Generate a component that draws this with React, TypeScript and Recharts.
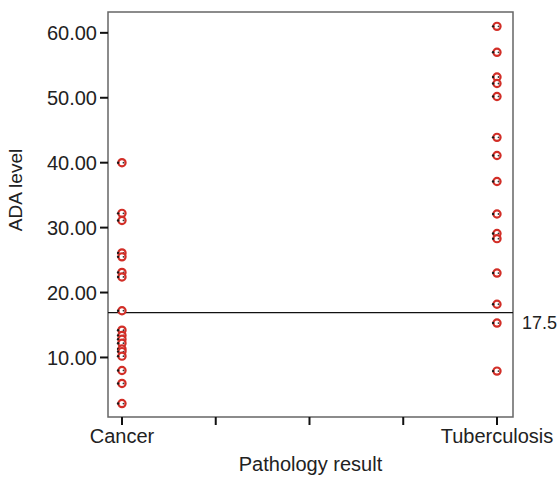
import {
  ReferenceArea,
  ReferenceLine,
  Scatter,
  ScatterChart,
  XAxis,
  YAxis,
} from 'recharts';

const groups = ['Cancer', 'Tuberculosis'];
const xTicks = [0, 0.25, 0.5, 0.75, 1];
const yTicks = [10, 20, 30, 40, 50, 60];

const cancerAda = [
  40.0, 32.2, 31.1, 26.1, 25.5, 23.1, 22.4, 17.2, 14.2, 13.4, 12.8, 12.2,
  11.3, 10.9, 10.2, 8.0, 6.0, 2.9,
];
const tbAda = [
  61.0, 57.0, 53.2, 52.2, 50.2, 43.9, 41.1, 37.1, 32.1, 29.1, 28.3, 23.0,
  18.2, 15.3, 7.9,
];

const cutoffLine = 16.9;
const cutoffLabel = '17.5';

const X_DOMAIN: [number, number] = [-0.0373, 1.0427];
const Y_DOMAIN: [number, number] = [0.83, 63.21];

const points = [
  ...cancerAda.map((ada) => ({ group: 0, ada })),
  ...tbAda.map((ada) => ({ group: 1, ada })),
];

const font = 'Liberation Sans, Arial, sans-serif';

const Marker = (props: any) => {
  const { cx, cy } = props;
  if (cx == null || cy == null) return null;
  return (
    <g>
      <circle cx={cx} cy={cy} r={3.6} fill="#fff" stroke="#d22e27" strokeWidth={2.2} />
      <circle cx={cx - 3.9} cy={cy} r={1.2} fill="#1a1a1a" />
      <circle cx={cx + 1.5} cy={cy} r={0.9} fill="#333" />
    </g>
  );
};

// label sits a bit above the plot's middle in the original
const YLabel = () => (
  <text
    x={15}
    y={190}
    transform="rotate(-90 15 190)"
    textAnchor="middle"
    dominantBaseline="central"
    fontSize={19}
    fontFamily={font}
    fill="#222"
  >
    ADA level
  </text>
);

const CutoffLabel = (props: any) => {
  const { viewBox } = props;
  return (
    <text
      x={viewBox.x + viewBox.width + 9}
      y={viewBox.y + 10}
      dominantBaseline="central"
      fontSize={18}
      fontFamily={font}
      fill="#222"
    >
      {cutoffLabel}
    </text>
  );
};

export default function App() {
  return (
    <div style={{ position: 'absolute', left: 0, top: 0, background: '#fff' }}>
      <ScatterChart
        width={560}
        height={477}
        margin={{ top: 12, right: 47, left: 0, bottom: 0 }}
      >
        <XAxis
          type="number"
          dataKey="group"
          domain={X_DOMAIN}
          ticks={xTicks}
          allowDataOverflow
          height={60}
          tickSize={8}
          tickMargin={4}
          tickLine={{ stroke: '#111', strokeWidth: 2 }}
          axisLine={false}
          tickFormatter={(v: number) => (v === 0 ? groups[0] : v === 1 ? groups[1] : '')}
          tick={{ fontSize: 20, fill: '#222', fontFamily: font }}
          label={{
            value: 'Pathology result',
            position: 'insideBottom',
            offset: 6,
            fontSize: 20,
            fill: '#222',
            fontFamily: font,
          }}
        />
        <YAxis
          type="number"
          dataKey="ada"
          domain={Y_DOMAIN}
          ticks={yTicks}
          allowDataOverflow
          width={108}
          tickSize={8}
          tickMargin={3}
          tickLine={{ stroke: '#111', strokeWidth: 2 }}
          axisLine={false}
          tickFormatter={(v: number) => v.toFixed(2)}
          tick={{ fontSize: 20, fill: '#222', fontFamily: font }}
          label={<YLabel />}
        />
        <ReferenceArea
          x1={X_DOMAIN[0]}
          x2={X_DOMAIN[1]}
          y1={Y_DOMAIN[0]}
          y2={Y_DOMAIN[1]}
          fill="none"
          stroke="#666"
          strokeWidth={1.5}
          ifOverflow="visible"
        />
        <ReferenceLine
          y={cutoffLine}
          stroke="#111"
          strokeWidth={1.2}
          label={<CutoffLabel />}
        />
        <Scatter data={points} shape={<Marker />} isAnimationActive={false} />
      </ScatterChart>
    </div>
  );
}
